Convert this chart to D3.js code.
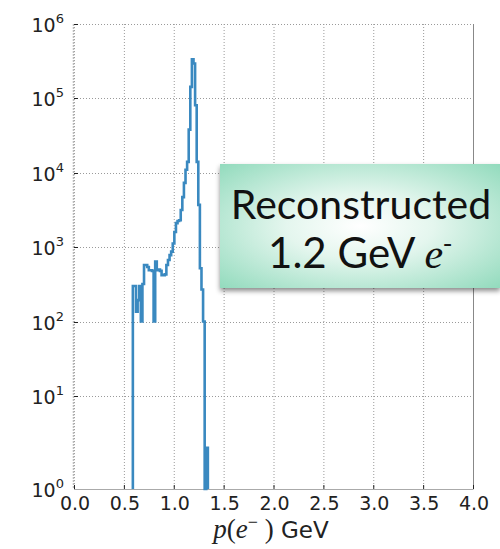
<!DOCTYPE html>
<html>
<head>
<meta charset="utf-8">
<script src="https://cdn.jsdelivr.net/npm/d3@7"></script>
<style>
  html, body { margin: 0; padding: 0; background: #fff; }
  svg { display: block; }
</style>
</head>
<body>
<svg id="chart" width="500" height="549"></svg>
<script>
// Reconstructed electron momentum spectrum, step histogram on a log scale.
const binEdges = [
  0.590, 0.606, 0.622, 0.638, 0.654, 0.670, 0.686, 0.702, 0.718, 0.734,
  0.750, 0.766, 0.782, 0.798, 0.814, 0.830, 0.846, 0.862, 0.878, 0.894,
  0.910, 0.926, 0.942, 0.958, 0.974, 0.990, 1.006, 1.022, 1.038, 1.054,
  1.070, 1.086, 1.102, 1.118, 1.134, 1.150, 1.166, 1.182, 1.198, 1.214,
  1.230, 1.246, 1.262, 1.278, 1.294, 1.310, 1.326, 1.342
];
const binCounts = [
  300, 300, 135, 194, 300, 100, 320, 575, 575, 540,
  490, 490, 480, 100, 640, 490, 500, 480, 420, 420,
  430, 575, 670, 780, 870, 1120, 1600, 2100, 2250, 2300,
  3150, 4700, 7300, 11000, 14000, 38000, 143000, 335000, 295000, 81000,
  14000, 3700, 520, 270, 100, 0, 2
];

// Axis settings
const xDomain = [0, 4];
const yDomain = [0.56, 1e6];
const xTicks = [0.0, 0.5, 1.0, 1.5, 2.0, 2.5, 3.0, 3.5, 4.0];
const yTicks = [0.56, 1e1, 1e2, 1e3, 1e4, 1e5, 1e6];
const yGrid = [1e1, 1e2, 1e3, 1e4, 1e5, 1e6];

const plot = { left: 74, right: 473, top: 24, bottom: 489 };

const svg = d3.select("#chart");
const x = d3.scaleLinear().domain(xDomain).range([plot.left, plot.right]);
const y = d3.scaleLog().domain(yDomain).range([plot.bottom, plot.top]);

const defs = svg.append("defs");
const grad = defs.append("radialGradient")
  .attr("id", "boxGrad").attr("cx", "50%").attr("cy", "50%").attr("r", "75%");
grad.append("stop").attr("offset", "0%").attr("stop-color", "#ffffff");
grad.append("stop").attr("offset", "35%").attr("stop-color", "#e4f6ee");
grad.append("stop").attr("offset", "100%").attr("stop-color", "#8ad8b8");
const shadow = defs.append("filter").attr("id", "boxShadow")
  .attr("x", "-10%").attr("y", "-10%").attr("width", "130%").attr("height", "140%");
shadow.append("feDropShadow").attr("dx", 0).attr("dy", 3)
  .attr("stdDeviation", 2.5).attr("flood-color", "#000").attr("flood-opacity", 0.45);

// Grid lines
const grid = svg.append("g").attr("stroke", "#9a9a9a").attr("stroke-width", 1)
  .attr("stroke-dasharray", "1,2").attr("fill", "none");
grid.selectAll("line.vx").data(xTicks).join("line")
  .attr("x1", d => x(d) + 0.5).attr("x2", d => x(d) + 0.5)
  .attr("y1", plot.top).attr("y2", plot.bottom);
grid.selectAll("line.hy").data(yGrid).join("line")
  .attr("x1", plot.left).attr("x2", plot.right)
  .attr("y1", d => Math.round(y(d)) + 0.5).attr("y2", d => Math.round(y(d)) + 0.5);

// Frame
svg.append("line").attr("x1", plot.left).attr("x2", plot.right + 0.5)
  .attr("y1", plot.bottom + 0.5).attr("y2", plot.bottom + 0.5)
  .attr("stroke", "#aaa").attr("stroke-width", 1);
svg.append("line").attr("x1", plot.right + 0.5).attr("x2", plot.right + 0.5)
  .attr("y1", plot.top).attr("y2", plot.bottom)
  .attr("stroke", "#888").attr("stroke-width", 1);
svg.append("line").attr("x1", plot.left - 0.5).attr("x2", plot.left - 0.5)
  .attr("y1", plot.top).attr("y2", plot.bottom)
  .attr("stroke", "#bbb").attr("stroke-width", 1.5).attr("stroke-dasharray", "2,1");

// Tick marks (inward)
const tickG = svg.append("g").attr("stroke", "#222").attr("stroke-width", 1);
tickG.selectAll("line.tx").data(xTicks).join("line")
  .attr("x1", d => x(d) + 0.5).attr("x2", d => x(d) + 0.5)
  .attr("y1", plot.bottom).attr("y2", plot.bottom - 4);
tickG.selectAll("line.ty").data(yGrid).join("line")
  .attr("x1", plot.left).attr("x2", plot.left + 4)
  .attr("y1", d => Math.round(y(d)) + 0.5).attr("y2", d => Math.round(y(d)) + 0.5);

// Histogram outline
const pts = [{ p: binEdges[0], v: 0 }];
binCounts.forEach((c, i) => {
  pts.push({ p: binEdges[i], v: c });
  pts.push({ p: binEdges[i + 1], v: c });
});
pts.push({ p: binEdges[binEdges.length - 1], v: 0 });
const yc = v => y(Math.max(v, yDomain[0]));
svg.append("path")
  .attr("d", d3.line().x(d => x(d.p)).y(d => yc(d.v))(pts))
  .attr("fill", "none").attr("stroke", "#3a89c0").attr("stroke-width", 2.6)
  .attr("stroke-linejoin", "miter");

// Tick labels
const labG = svg.append("g").attr("font-family", "DejaVu Sans").attr("fill", "#222");
labG.selectAll("text.xl").data(xTicks).join("text")
  .attr("x", d => x(d) + 1).attr("y", plot.bottom + 21)
  .attr("text-anchor", "middle").attr("font-size", 19)
  .text(d => d.toFixed(1));
const yl = labG.selectAll("text.yl").data(yTicks).join("text")
  .attr("x", 64).attr("y", d => y(d) + 8)
  .attr("text-anchor", "end").attr("font-size", 19);
yl.append("tspan").text("10");
yl.append("tspan").attr("font-size", 13).attr("dy", -9)
  .text(d => Math.round(Math.log10(d)));

// Axis title
const xt = svg.append("text").attr("x", 271).attr("y", 538)
  .attr("text-anchor", "middle").attr("fill", "#222");
xt.append("tspan").attr("font-family", "Liberation Serif").attr("font-style", "italic")
  .attr("font-size", 27).text("p");
xt.append("tspan").attr("font-family", "Liberation Serif").attr("font-size", 27).text("(");
xt.append("tspan").attr("font-family", "Liberation Serif").attr("font-style", "italic")
  .attr("font-size", 27).text("e");
xt.append("tspan").attr("font-family", "Liberation Serif").attr("font-size", 18)
  .attr("dy", -10).text("\u2212");
xt.append("tspan").attr("font-family", "Liberation Serif").attr("font-size", 27)
  .attr("dy", 10).text(" )");
xt.append("tspan").attr("font-family", "DejaVu Sans").attr("font-size", 23).text(" GeV");

// Annotation box
const box = svg.append("g");
box.append("rect").attr("x", 220).attr("y", 164).attr("width", 280).attr("height", 124)
  .attr("fill", "url(#boxGrad)").attr("filter", "url(#boxShadow)");
box.append("text").attr("x", 361).attr("y", 219).attr("text-anchor", "middle")
  .attr("font-family", "Lato").attr("font-size", 41).attr("fill", "#111")
  .text("Reconstructed");
const l2 = box.append("text").attr("x", 360).attr("y", 268).attr("text-anchor", "middle")
  .attr("fill", "#111");
l2.append("tspan").attr("font-family", "Lato").attr("font-size", 42).text("1.2 GeV ");
l2.append("tspan").attr("font-family", "Liberation Serif").attr("font-style", "italic")
  .attr("font-size", 42).text("e");
l2.append("tspan").attr("font-family", "Liberation Serif").attr("font-size", 26)
  .attr("dy", -17).text("-");
</script>
</body>
</html>
